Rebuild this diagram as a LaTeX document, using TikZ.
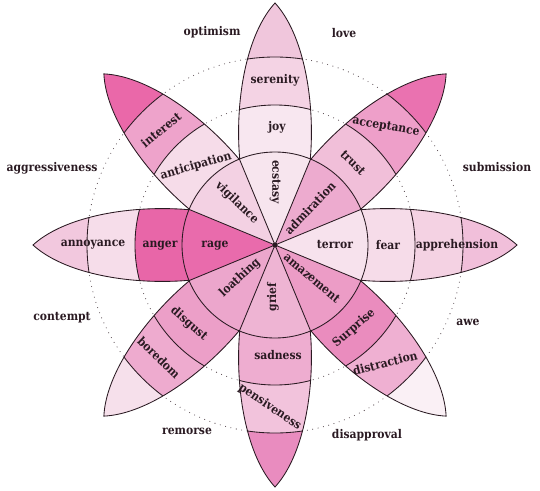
\documentclass[tikz,border=0pt]{standalone}
\usepackage{fontspec}
\setmainfont{DejaVu Serif Condensed}
\definecolor{ink}{HTML}{2A1A22}
% joy
\definecolor{jA}{HTML}{F7E5EE}\definecolor{jB}{HTML}{F8E7F0}\definecolor{jC}{HTML}{F4D3E4}\definecolor{jD}{HTML}{F0C6DC}
% trust
\definecolor{tA}{HTML}{EDABCF}\definecolor{tB}{HTML}{F1BFD9}\definecolor{tC}{HTML}{EE9FC9}\definecolor{tD}{HTML}{EA72B0}
% fear
\definecolor{fA}{HTML}{F7E2ED}\definecolor{fB}{HTML}{F6DCE9}\definecolor{fC}{HTML}{F4D2E3}\definecolor{fD}{HTML}{F1BFDA}
% surprise
\definecolor{sA}{HTML}{EC9CC6}\definecolor{sB}{HTML}{EA8CBE}\definecolor{sC}{HTML}{EFB0D2}\definecolor{sD}{HTML}{FAF0F5}
% sadness
\definecolor{dA}{HTML}{EEB4D3}\definecolor{dB}{HTML}{EEADD0}\definecolor{dC}{HTML}{F2C3DC}\definecolor{dD}{HTML}{E98CBF}
% disgust
\definecolor{gA}{HTML}{ECA6CC}\definecolor{gB}{HTML}{EC9FC8}\definecolor{gC}{HTML}{EEABCF}\definecolor{gD}{HTML}{F6E0EB}
% anger
\definecolor{aA}{HTML}{E96BAC}\definecolor{aB}{HTML}{E866A8}\definecolor{aC}{HTML}{F6DDEA}\definecolor{aD}{HTML}{F2C8DE}
% anticipation
\definecolor{vA}{HTML}{F3D1E3}\definecolor{vB}{HTML}{F6DCE9}\definecolor{vC}{HTML}{EEA3CB}\definecolor{vD}{HTML}{EA68A9}
\newcommand\drawpetal[4]{%
  \begin{scope}[rotate=#1]
    \begin{scope}
      \clip (0,0) .. controls (20,45) and (185,52) .. (242,0) .. controls (185,-52) and (20,-45) .. (0,0) -- cycle;
      \fill[#4] (-5,-60) rectangle (250,60);
      \fill[#3] (0,0) circle[radius=188];
      \fill[#2] (0,0) circle[radius=140];
      \draw[edge] (0,0) circle[radius=188] (0,0) circle[radius=140];
    \end{scope}
    \draw[edge] (0,0) .. controls (20,45) and (185,52) .. (242,0) .. controls (185,-52) and (20,-45) .. (0,0) -- cycle;
  \end{scope}}
\newcommand\drawsector[2]{%
  \fill[#2] (0,0) -- ({#1-22.5}:93) arc[start angle={#1-22.5}, end angle={#1+22.5}, radius=93] -- cycle;}
\begin{document}
\begin{tikzpicture}[x=1pt,y=1pt,
  lbl/.style={font=\fontsize{12}{14}\selectfont\bfseries, inner sep=0pt, text=ink},
  edge/.style={draw=ink, line width=0.85pt},
  dots/.style={draw=ink!80, line width=1.1pt, line cap=round, dash pattern=on 0pt off 5.5pt}]
\useasboundingbox (-275,-245) rectangle (265,245);
\draw[dots] (0,0) circle[radius=140];
\draw[dots] (0,0) circle[radius=188];
\drawpetal{90}{jB}{jC}{jD}
\drawpetal{45}{tB}{tC}{tD}
\drawpetal{0}{fB}{fC}{fD}
\drawpetal{-45}{sB}{sC}{sD}
\drawpetal{-90}{dB}{dC}{dD}
\drawpetal{-135}{gB}{gC}{gD}
\drawpetal{180}{aB}{aC}{aD}
\drawpetal{135}{vB}{vC}{vD}
\drawsector{90}{jA}
\drawsector{45}{tA}
\drawsector{0}{fA}
\drawsector{-45}{sA}
\drawsector{-90}{dA}
\drawsector{-135}{gA}
\drawsector{180}{aA}
\drawsector{135}{vA}
\draw[edge] (0,0) circle[radius=93];
\foreach \a in {22.5,67.5,...,337.5} \draw[edge] (0,0) -- (\a:93);
\fill[ink] (0,0) circle[radius=2.6];
% labels
\node[lbl,rotate=-90] (ecstasy) at (0,63) {ecstasy};
\node[lbl] (joy) at (2,118) {joy};
\node[lbl] (serenity) at (0,165) {serenity};
\node[lbl,rotate=46] (admiration) at (35,37) {admiration};
\node[lbl,rotate=-45] (trust) at (78,82) {trust};
\node[lbl,rotate=-10] (acceptance) at (111,118) {acceptance};
\node[lbl] (terror) at (60,0) {terror};
\node[lbl] (fear) at (113,0) {fear};
\node[lbl] (apprehension) at (182,0) {apprehension};
\node[lbl,rotate=-40] (amazement) at (37,-33) {amazement};
\node[lbl,rotate=41] (surprise) at (79,-83) {Surprise};
\node[lbl,rotate=14] (distraction) at (110,-118) {distraction};
\node[lbl,rotate=90] (grief) at (-2,-52) {grief};
\node[lbl] (sadness) at (3,-110) {sadness};
\node[lbl,rotate=-34] (pensiveness) at (-5,-162) {pensiveness};
\node[lbl,rotate=43] (loathing) at (-35,-33) {loathing};
\node[lbl,rotate=-41] (disgust) at (-86,-79) {disgust};
\node[lbl,rotate=-44] (boredom) at (-116,-113) {boredom};
\node[lbl] (rage) at (-60,-1) {rage};
\node[lbl] (anger) at (-115,-1) {anger};
\node[lbl] (annoyance) at (-182,0) {annoyance};
\node[lbl,rotate=-44] (vigilance) at (-38,42) {vigilance};
\node[lbl,rotate=16] (anticipation) at (-79,79) {anticipation};
\node[lbl,rotate=39] (interest) at (-114,115) {interest};
\node[lbl] (optimism) at (-63,213) {optimism};
\node[lbl] (love) at (69,212) {love};
\node[lbl] (submission) at (222,78) {submission};
\node[lbl] (awe) at (193,-77) {awe};
\node[lbl] (disapproval) at (92,-190) {disapproval};
\node[lbl] (remorse) at (-88,-186) {remorse};
\node[lbl] (contempt) at (-213,-73) {contempt};
\node[lbl] (aggressiveness) at (-223,77) {aggressiveness};
\end{tikzpicture}
\end{document}
